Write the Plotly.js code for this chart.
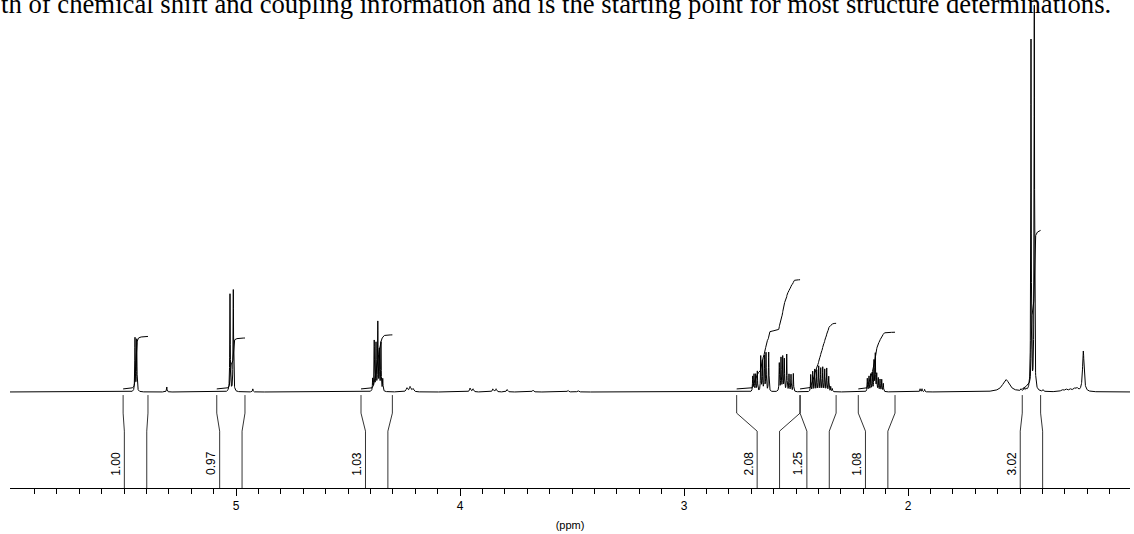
<!DOCTYPE html>
<html><head><meta charset="utf-8">
<script src="https://cdn.plot.ly/plotly-3.0.1.min.js"></script>
<style>html,body{margin:0;padding:0;background:#fff;}#chart{width:1134px;height:534px;}</style>
</head><body><div id="chart"></div>
<script>
// Peak list: chemical shift (ppm), relative intensity (tallest = 100), line width (ppm)
const peakShifts = [
  5.4509, 5.4433, 5.309, 4.925,
  5.0268, 5.0121,
  4.390, 4.383, 4.375, 4.367, 4.360, 4.353, 4.345,
  4.237, 4.223, 4.210,
  3.955, 3.942, 3.853, 3.839, 3.790, 3.674, 3.518, 3.473,
  2.6933, 2.6875, 2.680, 2.6727, 2.6576, 2.6504, 2.6415, 2.634, 2.622,
  2.5746, 2.567, 2.5594, 2.5522, 2.5415, 2.5313, 2.5223, 2.512,
  2.4344, 2.4254, 2.4165, 2.4076, 2.3987, 2.3897, 2.3808, 2.3719, 2.3629, 2.354, 2.3451, 2.338,
  2.1817, 2.1741, 2.1665, 2.1594, 2.1518, 2.146, 2.1397, 2.1326, 2.125, 2.1174, 2.1103,
  1.946, 1.9375, 1.926,
  1.5625,
  1.4955, 1.482, 1.473,
  1.4509, 1.4362, 1.397,
  1.3125, 1.295, 1.277, 1.259, 1.246,
  1.2174
];
const peakHeights = [
  13.9, 13.5, 1.3, 0.8,
  25.4, 26.5,
  3.1, 13.0, 12.2, 17.7, 10.4, 12.5, 3.1,
  1.0, 1.3, 0.8,
  1.0, 0.8, 0.8, 0.8, 0.65, 0.5, 0.4, 0.4,
  3.9, 4.4, 4.4, 5.2, 9.1, 7.8, 9.1, 9.9, 10.2,
  7.3, 8.6, 8.9, 8.3, 9.6, 4.4, 4.4, 4.7,
  4.4, 5.2, 5.7, 5.5, 6.5, 6.0, 6.25, 5.7, 6.0, 3.9, 1.3, 0.8,
  3.4, 3.9, 4.4, 4.7, 7.8, 9.6, 4.4, 3.4, 3.1, 3.1, 2.1,
  0.8, 0.8, 0.65,
  3.2,
  0.5, 0.65, 0.5,
  91.1, 100, 0.4,
  0.5, 0.65, 0.65, 0.8, 0.8,
  10.6
];
const peakWidths = [
  0.0025, 0.0025, 0.003, 0.003,
  0.0025, 0.0025,
  0.0025, 0.0025, 0.0025, 0.0025, 0.0025, 0.0025, 0.0025,
  0.008, 0.008, 0.008,
  0.006, 0.006, 0.006, 0.006, 0.006, 0.006, 0.006, 0.006,
  0.0025, 0.0025, 0.0025, 0.0025, 0.0025, 0.0025, 0.0025, 0.0025, 0.0025,
  0.0025, 0.0025, 0.0025, 0.0025, 0.0025, 0.0025, 0.0025, 0.0025,
  0.0025, 0.0025, 0.0025, 0.0025, 0.0025, 0.0025, 0.0025, 0.0025, 0.0025, 0.0025, 0.0025, 0.003,
  0.0025, 0.0025, 0.0025, 0.0025, 0.0025, 0.0025, 0.0025, 0.0025, 0.0025, 0.0025, 0.0025,
  0.003, 0.003, 0.003,
  0.037,
  0.004, 0.004, 0.004,
  0.0025, 0.0025, 0.004,
  0.012, 0.012, 0.012, 0.012, 0.012,
  0.008
];

// Integration regions (ppm) and their values
const integralFrom   = [5.504, 5.086, 4.442, 2.765, 2.482, 2.222, 1.490];
const integralTo     = [5.393, 4.960, 4.302, 2.482, 2.321, 2.058, 1.408];
const integralValues = [1.00, 0.97, 1.03, 2.08, 1.25, 1.08, 3.02];

const tickValues = [5, 4, 3, 2];
const tickLabels = ['5', '4', '3', '2'];

const headerText = 'th of chemical shift and coupling information and is the starting point for most structure determinations.';

// ---- build spectrum from the peak list ----
const xLo = 1.0, xHi = 6.05, step = 0.0005;
let grid = [];
for (let i = 0; xHi - i * step >= xLo; i++) grid.push(+(xHi - i * step).toFixed(5));
peakShifts.forEach(p => grid.push(p));
grid.sort((a, b) => b - a);
function intensity(x) {
  let s = 0;
  for (let k = 0; k < peakShifts.length; k++) {
    const g = peakWidths[k] / 2, d = x - peakShifts[k];
    s += peakHeights[k] * g * g / (d * d + g * g);
  }
  return s;
}
const specY = grid.map(intensity);

// ---- integral curves ----
const intScale = 13.67, intOffset = 0.8;
const ix = [], iy = [];
for (let r = 0; r < integralFrom.length; r++) {
  const xs = [], ys = [];
  grid.forEach((x, j) => { if (x <= integralFrom[r] && x >= integralTo[r]) { xs.push(x); ys.push(specY[j]); } });
  const cum = [0];
  for (let j = 1; j < xs.length; j++) cum.push(cum[j - 1] + 0.5 * (ys[j] + ys[j - 1]) * (xs[j - 1] - xs[j]));
  const tot = cum[cum.length - 1];
  xs.forEach((x, j) => { ix.push(x); iy.push(intOffset + cum[j] / tot * integralValues[r] * intScale); });
  ix.push(null); iy.push(null);
}

// ---- integration markers below the baseline ----
const yAxisBottom = -25.0, yTop = 102.08;
const mx = [], my = [];
const annots = [];
for (let r = 0; r < integralFrom.length; r++) {
  const c = (integralFrom[r] + integralTo[r]) / 2;
  const half = 0.05;
  [[integralFrom[r], c + half], [integralTo[r], c - half]].forEach(([top, bot]) => {
    mx.push(top, top, bot, bot, null);
    my.push(-0.8, -5.5, -10.2, yAxisBottom, null);
  });
  annots.push({
    x: c + half + 0.036, y: -18.6, xref: 'x', yref: 'y',
    text: integralValues[r].toFixed(2), textangle: -90, showarrow: false,
    xanchor: 'center', yanchor: 'middle',
    font: {family: 'Liberation Sans, Arial, sans-serif', size: 12, color: '#000'}
  });
}
annots.push({
  x: 0, y: 0.956, xref: 'paper', yref: 'paper', xanchor: 'left', yanchor: 'bottom',
  xshift: -11,
  text: headerText, showarrow: false,
  font: {family: 'Liberation Serif, Times New Roman, serif', size: 26.7, color: '#000'}
});

// minor ticks every 0.1 ppm inside the drawn range
const minorTicks = [];
for (let v = 59; v >= 11; v--) if (v % 10 !== 0) minorTicks.push(v / 10);

const traces = [
  {x: grid, y: specY, type: 'scatter', mode: 'lines', line: {color: '#000', width: 1}, hoverinfo: 'skip'},
  {x: ix, y: iy, type: 'scatter', mode: 'lines', line: {color: '#000', width: 1}, connectgaps: false, hoverinfo: 'skip'},
  {x: mx, y: my, type: 'scatter', mode: 'lines', line: {color: '#000', width: 0.8}, connectgaps: false, hoverinfo: 'skip'}
];

const layout = {
  width: 1134, height: 534,
  margin: {l: 10, r: 4, t: 0, b: 46},
  paper_bgcolor: '#fff', plot_bgcolor: '#fff',
  showlegend: false,
  xaxis: {
    range: [6.009, 1.009], autorange: false,
    showline: true, linecolor: '#000', linewidth: 1,
    showgrid: false, zeroline: false,
    ticks: 'outside', ticklen: 7, tickwidth: 1, tickcolor: '#000',
    tickmode: 'array', tickvals: tickValues, ticktext: tickLabels,
    minor: {tickmode: 'array', tickvals: minorTicks, ticks: 'outside', ticklen: 5, tickwidth: 1, tickcolor: '#000', showgrid: false},
    tickfont: {family: 'Liberation Sans, Arial, sans-serif', size: 12, color: '#000'},
    title: {text: '(ppm)', standoff: 8, font: {family: 'Liberation Sans, Arial, sans-serif', size: 11, color: '#000'}}
  },
  yaxis: {range: [yAxisBottom, yTop], autorange: false, visible: false},
  annotations: annots
};

Plotly.newPlot('chart', traces, layout, {displayModeBar: false, staticPlot: true});
</script>
</body></html>
